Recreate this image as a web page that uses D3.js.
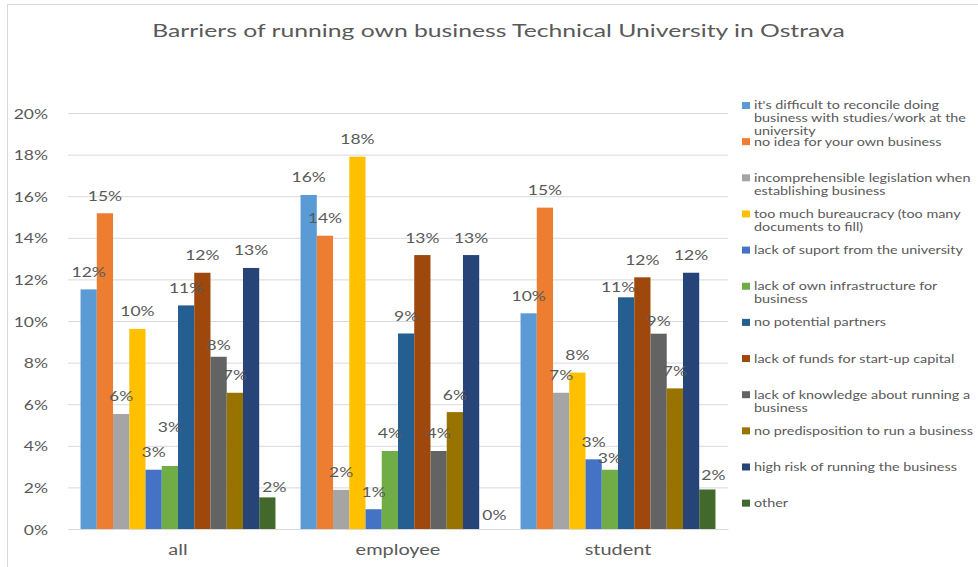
<!DOCTYPE html>
<html>
<head>
<meta charset="utf-8">
<script src="https://cdn.jsdelivr.net/npm/d3@7"></script>
<style>
  html, body { margin: 0; padding: 0; background: #fff; }
  svg { display: block; }
  text { font-family: Lato, "Open Sans", "Liberation Sans", sans-serif; }
</style>
</head>
<body>
<svg id="chart" width="978" height="567"></svg>
<script>
// Respondent groups
const categories = ["all", "employee", "student"];

// Barrier names (legend order = bar order inside each group)
const seriesNames = [
  "it's difficult to reconcile doing business with studies/work at the university",
  "no idea for your own business",
  "incomprehensible legislation when establishing business",
  "too much bureaucracy (too many documents to fill)",
  "lack of suport from the university",
  "lack of own infrastructure for business",
  "no potential partners",
  "lack of funds for start-up capital",
  "lack of knowledge about running a business",
  "no predisposition to run a business",
  "high risk of running the business",
  "other"
];

// Share of answers per barrier, one array per group (same order as seriesNames)
const allValues      = [0.1152, 0.1518, 0.0553, 0.0962, 0.0285, 0.0303, 0.1075, 0.1232, 0.0828, 0.0655, 0.1255, 0.0152];
const employeeValues = [0.1606, 0.1410, 0.0188, 0.1790, 0.0095, 0.0375, 0.0940, 0.1317, 0.0375, 0.0562, 0.1317, 0.0000];
const studentValues  = [0.1037, 0.1545, 0.0655, 0.0752, 0.0335, 0.0285, 0.1114, 0.1210, 0.0939, 0.0676, 0.1232, 0.0190];

const groupValues = { all: allValues, employee: employeeValues, student: studentValues };

// Value axis ticks
const yTicks = [0, 0.02, 0.04, 0.06, 0.08, 0.10, 0.12, 0.14, 0.16, 0.18, 0.20];

const titleText = "Barriers of running own business Technical University in Ostrava";

const colors = ["#5B9BD5", "#ED7D31", "#A5A5A5", "#FFC000", "#4472C4", "#70AD47",
                "#255E91", "#9E480E", "#636363", "#997300", "#264478", "#43682B"];

const SX = 1.25;          // horizontal stretch applied to the chart's lettering
const textColor = "#595959";
const gridColor = "#D9D9D9";

const svg = d3.select("#chart");

// stretch a text element horizontally around its own anchor point
function stretch(sel, sx) {
  sel.attr("transform", function () {
    const x = +this.getAttribute("x") || 0;
    const y = +this.getAttribute("y") || 0;
    return `translate(${x},${y}) scale(${sx},1) translate(${-x},${-y})`;
  });
}

// chart frame
svg.append("rect")
  .attr("x", 7.5).attr("y", 4.5)
  .attr("width", 1000).attr("height", 600)
  .attr("fill", "none").attr("stroke", gridColor).attr("stroke-width", 1);

const plot = { left: 68, right: 728, top: 113, bottom: 529 };

const x0 = d3.scaleBand()
  .domain(categories)
  .range([plot.left, plot.right])
  .paddingInner(0.114)
  .paddingOuter(0.057);

const x1 = d3.scaleBand()
  .domain(d3.range(seriesNames.length))
  .range([0, x0.bandwidth()]);

const y = d3.scaleLinear().domain([0, 0.2]).range([plot.bottom, plot.top]);

const pct = d3.format(".0%");

// y axis with gridlines
const yAxis = svg.append("g")
  .attr("transform", `translate(${plot.left},0)`)
  .call(d3.axisLeft(y).tickValues(yTicks).tickFormat(pct)
    .tickSize(-(plot.right - plot.left)).tickPadding(20));
yAxis.select(".domain").remove();
yAxis.selectAll(".tick line").attr("stroke", gridColor).attr("stroke-width", 1);
yAxis.selectAll(".tick text")
  .attr("fill", textColor).attr("font-size", 14).attr("dy", "0.36em")
  .call(stretch, SX);

// category axis
const xAxis = svg.append("g")
  .attr("transform", `translate(0,${plot.bottom})`)
  .call(d3.axisBottom(x0).tickSize(0).tickPadding(15));
xAxis.select(".domain").attr("stroke", gridColor).attr("stroke-width", 1);
xAxis.selectAll(".tick text")
  .attr("fill", textColor).attr("font-size", 15)
  .call(stretch, 1.33);

// bars
const rows = categories.flatMap(c => groupValues[c].map((v, i) => ({ c, i, v })));

svg.append("g").selectAll("rect")
  .data(rows)
  .join("rect")
  .attr("x", d => x0(d.c) + x1(d.i))
  .attr("y", d => y(d.v))
  .attr("width", x1.bandwidth())
  .attr("height", d => y(0) - y(d.v))
  .attr("fill", d => colors[d.i]);

// small shifts for labels that would collide with neighbours
const labelShift = {
  "all|5": [0, -21], "all|8": [0, 6], "all|11": [7, 7],
  "employee|11": [7, 4],
  "student|5": [0, 6], "student|6": [-8, 7], "student|8": [0, 5], "student|11": [6, 3]
};
const shiftOf = d => labelShift[d.c + "|" + d.i] || [0, 0];

svg.append("g").selectAll("text")
  .data(rows)
  .join("text")
  .attr("x", d => x0(d.c) + x1(d.i) + x1.bandwidth() / 2 + shiftOf(d)[0])
  .attr("y", d => y(d.v) - 12.5 + shiftOf(d)[1])
  .attr("text-anchor", "middle")
  .attr("font-size", 14)
  .attr("fill", textColor)
  .text(d => pct(d.v))
  .call(stretch, SX);

// title, widened to span its full line
const title = svg.append("text")
  .attr("x", 498.5).attr("y", 37)
  .attr("text-anchor", "middle")
  .attr("font-size", 17.5)
  .attr("fill", textColor)
  .text(titleText);
title.call(stretch, 693 / title.node().getComputedTextLength());

// legend
const legend = svg.append("g");
const legX = 742, legY0 = 105.5, legStep = 36.15, lineH = 13, wrapW = 236, legFont = 11.5;

seriesNames.forEach((name, i) => {
  const cy = legY0 + i * legStep;
  legend.append("rect")
    .attr("x", legX).attr("y", cy - 3.5)
    .attr("width", 8).attr("height", 7)
    .attr("fill", colors[i]);

  // wrap the name into lines that fit the legend column
  const words = name.split(" ");
  const lines = [];
  let line = "";
  const probe = legend.append("text").attr("font-size", legFont);
  words.forEach(w => {
    const test = line ? line + " " + w : w;
    probe.text(test);
    if (line && probe.node().getComputedTextLength() * SX > wrapW) {
      lines.push(line);
      line = w;
    } else {
      line = test;
    }
  });
  lines.push(line);
  probe.remove();

  lines.forEach((ln, k) => {
    legend.append("text")
      .attr("x", legX + 12).attr("y", cy + 4 + k * lineH)
      .attr("font-size", legFont)
      .attr("fill", textColor)
      .text(ln)
      .call(stretch, SX);
  });
});
</script>
</body>
</html>
